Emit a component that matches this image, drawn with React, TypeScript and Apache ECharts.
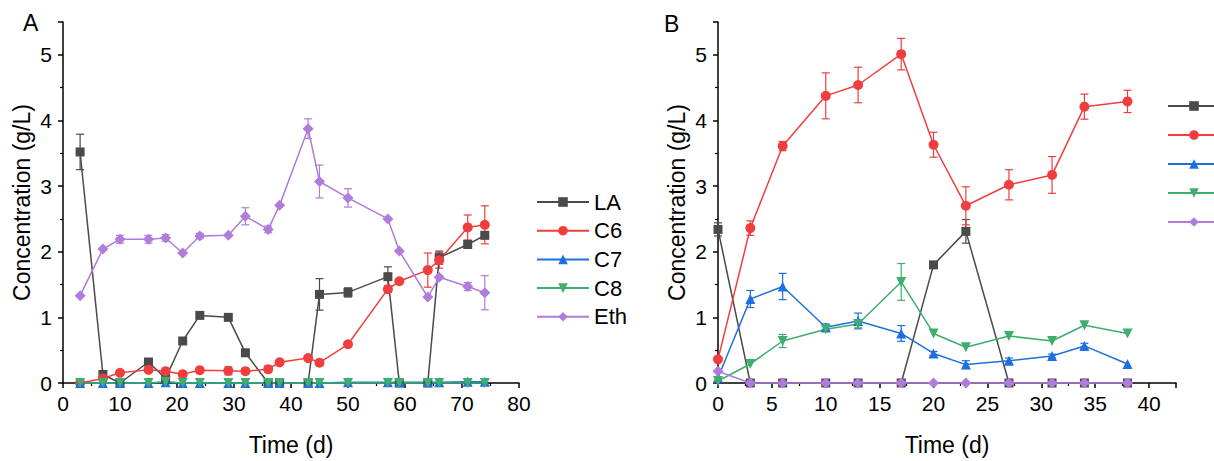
import React, { useEffect, useRef } from 'react';
import * as echarts from 'echarts';

// ---------- Data ----------
const seriesNames = ['LA', 'C6', 'C7', 'C8', 'Eth'];

const timeA = [3, 7, 10, 15, 18, 21, 24, 29, 32, 36, 38, 43, 45, 50, 57, 59, 64, 66, 71, 74];
const laA = [3.52, 0.13, 0, 0.32, 0.07, 0.64, 1.03, 1.0, 0.46, 0, 0, 0, 1.35, 1.38, 1.62, 0, 0, 1.91, 2.11, 2.25];
const laAErr = [0.27, 0, 0, 0, 0, 0, 0, 0, 0, 0, 0, 0, 0.24, 0.07, 0.15, 0, 0, 0.1, 0, 0.05];
const c6A = [0, 0.07, 0.155, 0.2, 0.18, 0.135, 0.195, 0.185, 0.18, 0.21, 0.315, 0.38, 0.31, 0.59, 1.43, 1.55, 1.72, 1.87, 2.37, 2.41];
const c6AErr = [0, 0, 0, 0, 0, 0, 0, 0.06, 0.04, 0.05, 0, 0, 0, 0, 0.05, 0, 0.26, 0.12, 0.19, 0.29];
const c7A = [0, 0, 0, 0, 0.01, 0, 0, 0, 0, 0, 0, 0, 0, 0.01, 0.01, 0.01, 0.01, 0.01, 0.02, 0.02];
const c7AErr = [0, 0, 0, 0, 0, 0, 0, 0, 0, 0, 0, 0, 0, 0, 0, 0, 0, 0, 0, 0];
const c8A = [0, 0, 0, 0, 0.02, 0, 0, 0, 0, 0, 0, 0, 0, 0, 0, 0, 0, 0, 0, 0];
const c8AErr = [0, 0, 0, 0, 0, 0, 0, 0, 0, 0, 0, 0, 0, 0, 0, 0, 0, 0, 0, 0];
const ethA = [1.33, 2.04, 2.19, 2.19, 2.21, 1.98, 2.24, 2.25, 2.54, 2.34, 2.71, 3.875, 3.07, 2.82, 2.5, 2.01, 1.31, 1.61, 1.47, 1.375];
const ethAErr = [0, 0, 0.06, 0.06, 0.05, 0, 0.04, 0, 0.13, 0.05, 0, 0.15, 0.25, 0.14, 0, 0, 0, 0, 0.06, 0.26];

const timeB = [0, 3, 6, 10, 13, 17, 20, 23, 27, 31, 34, 38];
const laB = [2.34, 0, 0, 0, 0, 0, 1.8, 2.31, 0, 0, 0, 0];
const laBErr = [0.1, 0, 0, 0, 0, 0, 0, 0.18, 0, 0, 0, 0];
const c6B = [0.36, 2.36, 3.61, 4.375, 4.54, 5.01, 3.63, 2.7, 3.02, 3.17, 4.21, 4.29];
const c6BErr = [0, 0.11, 0.07, 0.35, 0.27, 0.24, 0.19, 0.29, 0.23, 0.28, 0.19, 0.17];
const c7B = [0.08, 1.28, 1.47, 0.85, 0.945, 0.755, 0.45, 0.28, 0.34, 0.41, 0.565, 0.29];
const c7BErr = [0, 0.13, 0.2, 0.05, 0.12, 0.12, 0.03, 0.06, 0.04, 0.03, 0.04, 0];
const c8B = [0.03, 0.29, 0.64, 0.82, 0.9, 1.54, 0.755, 0.545, 0.715, 0.64, 0.88, 0.755];
const c8BErr = [0, 0, 0.1, 0.04, 0.06, 0.28, 0, 0, 0, 0, 0, 0];
const ethB = [0.18, 0, 0, 0, 0, 0, 0, 0, 0, 0, 0, 0];
const ethBErr = [0, 0, 0, 0, 0, 0, 0, 0, 0, 0, 0, 0];

const yTicks = [0, 1, 2, 3, 4, 5];

// ---------- Styles ----------
const FONT = '"Liberation Sans", Arial, Helvetica, sans-serif';
const COLORS: Record<string, string> = {
  LA: '#4a4a4a',
  C6: '#f03e3e',
  C7: '#1e6fdf',
  C8: '#3dae6d',
  Eth: '#b07cdc',
};
const SYMBOLS: Record<string, string> = {
  LA: 'rect',
  C6: 'circle',
  C7: 'triangle',
  C8: 'path://M0,0L10,0L5,9Z',
  Eth: 'diamond',
};
const SIZES: Record<string, number> = { LA: 9, C6: 10, C7: 10, C8: 10, Eth: 11 };

function lineSeries(name: string, times: number[], vals: number[], gi: number) {
  return {
    type: 'line',
    name,
    xAxisIndex: gi,
    yAxisIndex: gi,
    data: times.map((t, i) => [t, vals[i]]),
    symbol: SYMBOLS[name],
    symbolSize: SIZES[name],
    showAllSymbol: true,
    itemStyle: { color: COLORS[name] },
    lineStyle: { color: COLORS[name], width: 1.5 },
    z: 3,
    clip: false,
  };
}

function errSeries(name: string, times: number[], vals: number[], errs: number[], gi: number) {
  const color = COLORS[name];
  const data = times
    .map((t, i) => [t, vals[i], errs[i]])
    .filter((d) => d[2] > 0);
  return {
    type: 'custom',
    name: name + ' error',
    xAxisIndex: gi,
    yAxisIndex: gi,
    z: 2,
    silent: true,
    clip: false,
    data,
    encode: { x: 0, y: 1 },
    renderItem: (params: any, api: any) => {
      const x = api.value(0);
      const y = api.value(1);
      const e = api.value(2);
      const hi = api.coord([x, y + e]);
      const lo = api.coord([x, y - e]);
      const w = 4;
      const style = { stroke: color, lineWidth: 1.2, fill: 'none' };
      return {
        type: 'group',
        children: [
          { type: 'line', shape: { x1: hi[0], y1: hi[1], x2: lo[0], y2: lo[1] }, style },
          { type: 'line', shape: { x1: hi[0] - w, y1: hi[1], x2: hi[0] + w, y2: hi[1] }, style },
          { type: 'line', shape: { x1: lo[0] - w, y1: lo[1], x2: lo[0] + w, y2: lo[1] }, style },
        ],
      };
    },
  };
}

function xAxisCfg(gi: number, max: number) {
  return {
    type: 'value',
    gridIndex: gi,
    min: 0,
    max,
    interval: 5 * (gi === 0 ? 2 : 1),
    name: 'Time (d)',
    nameLocation: 'middle',
    nameGap: 50,
    nameTextStyle: { fontSize: 23, color: '#000', fontFamily: FONT },
    axisLine: { show: true, onZero: false, lineStyle: { color: '#000', width: 1.5 } },
    axisTick: { show: true, inside: false, length: 5, lineStyle: { color: '#000', width: 1.5 } },
    minorTick: { show: true, splitNumber: 2, length: 3, lineStyle: { color: '#000', width: 1.2 } },
    splitLine: { show: false },
    minorSplitLine: { show: false },
    axisLabel: {
      fontSize: 21,
      color: '#000',
      fontFamily: FONT,
      margin: 10,
      formatter: (v: number) => (v <= (gi === 0 ? 80 : 40) && v % 5 === 0 ? String(v) : ''),
    },
  };
}

function yAxisCfg(gi: number) {
  return {
    type: 'value',
    gridIndex: gi,
    min: 0,
    max: 5.5,
    interval: 1,
    name: 'Concentration (g/L)',
    nameLocation: 'middle',
    nameGap: 30,
    nameTextStyle: { fontSize: 23, color: '#000', fontFamily: FONT },
    axisLine: { show: true, onZero: false, lineStyle: { color: '#000', width: 1.5 } },
    axisTick: { show: true, inside: false, length: 5, lineStyle: { color: '#000', width: 1.5 } },
    minorTick: { show: true, splitNumber: 2, length: 3, lineStyle: { color: '#000', width: 1.2 } },
    splitLine: { show: false },
    minorSplitLine: { show: false },
    axisLabel: {
      fontSize: 21,
      color: '#000',
      fontFamily: FONT,
      margin: 11,
      formatter: (v: number) => (yTicks.indexOf(v) >= 0 ? String(v) : ''),
    },
  };
}

export default function App() {
  const ref = useRef<HTMLDivElement>(null);

  useEffect(() => {
    if (!ref.current) return;
    const chart = echarts.init(ref.current, undefined, { renderer: 'svg' });

    const dataA: Record<string, [number[], number[]]> = {
      LA: [laA, laAErr],
      C6: [c6A, c6AErr],
      C7: [c7A, c7AErr],
      C8: [c8A, c8AErr],
      Eth: [ethA, ethAErr],
    };
    const dataB: Record<string, [number[], number[]]> = {
      LA: [laB, laBErr],
      C6: [c6B, c6BErr],
      C7: [c7B, c7BErr],
      C8: [c8B, c8BErr],
      Eth: [ethB, ethBErr],
    };

    const series: any[] = [];
    seriesNames.forEach((n) => {
      series.push(errSeries(n, timeA, dataA[n][0], dataA[n][1], 0));
      series.push(errSeries(n, timeB, dataB[n][0], dataB[n][1], 1));
    });
    seriesNames.forEach((n) => {
      series.push(lineSeries(n, timeA, dataA[n][0], 0));
    });
    seriesNames.forEach((n) => {
      series.push(lineSeries(n, timeB, dataB[n][0], 1));
    });

    chart.setOption({
      animation: false,
      backgroundColor: '#fff',
      textStyle: { fontFamily: FONT },
      grid: [
        { left: 63, top: 22, width: 456, height: 366 },
        { left: 718, top: 22, width: 458, height: 366 },
      ],
      xAxis: [xAxisCfg(0, 80), xAxisCfg(1, 42.5)],
      yAxis: [yAxisCfg(0), yAxisCfg(1)],
      legend: [
        {
          orient: 'vertical',
          left: 536,
          top: 191,
          padding: 0,
          itemWidth: 52,
          itemHeight: 12,
          itemGap: 6.7,
          data: seriesNames,
          selectedMode: false,
          textStyle: { fontSize: 22, color: '#000', fontFamily: FONT },
        },
        {
          orient: 'vertical',
          left: 1167,
          top: 100,
          padding: 0,
          itemWidth: 52,
          itemHeight: 12,
          itemGap: 18.2,
          data: seriesNames,
          selectedMode: false,
          formatter: () => '',
          textStyle: { fontSize: 22, color: '#000', fontFamily: FONT },
        },
      ],
      graphic: [
        { type: 'text', left: 23, top: 11, style: { text: 'A', fontSize: 23, fill: '#000', fontFamily: FONT } },
        { type: 'text', left: 664, top: 12, style: { text: 'B', fontSize: 23, fill: '#000', fontFamily: FONT } },
      ],
      series,
    });

    return () => {
      chart.dispose();
    };
  }, []);

  return (
    <div
      ref={ref}
      style={{ position: 'fixed', left: 0, top: 0, width: 1214, height: 461, background: '#fff' }}
    />
  );
}
